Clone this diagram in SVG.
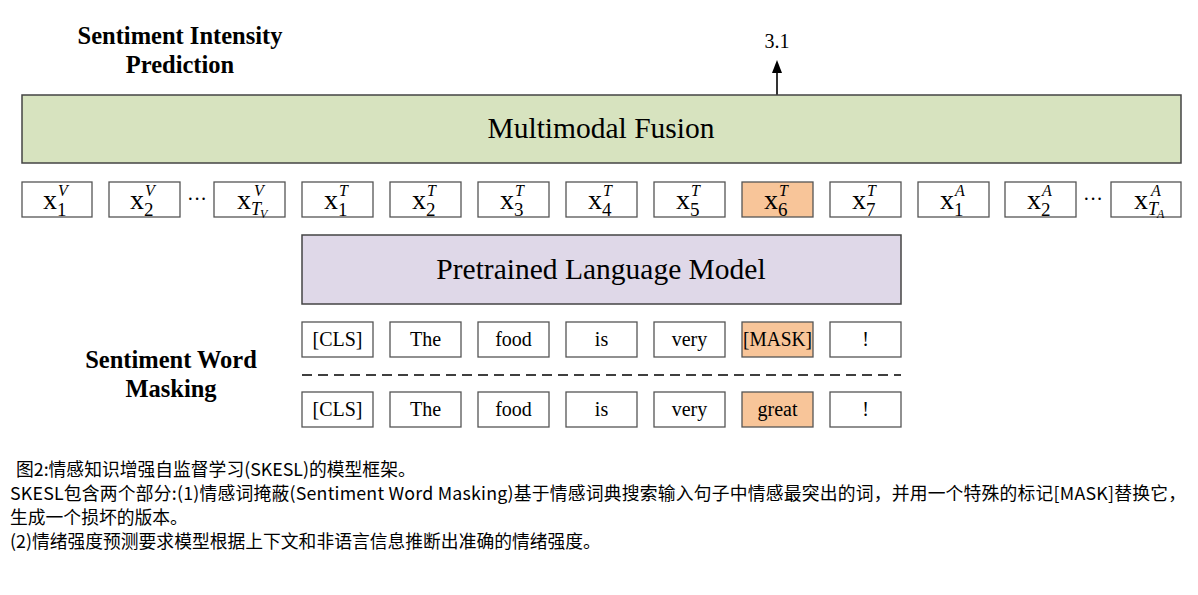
<svg xmlns="http://www.w3.org/2000/svg" width="1198" height="595" viewBox="0 0 1198 595">
<defs>
<style>
.box{fill:#fff;stroke:#555;stroke-width:1.3}
.hl{fill:#f8c599;stroke:#555;stroke-width:1.3}
.tm{font-family:"Liberation Serif","Times New Roman",serif;fill:#000}
.x{font-size:28px}
.sup{font-size:16px;font-style:italic}
.sub{font-size:19px}
.subi{font-size:18px;font-style:italic}
.subsub{font-size:12px;font-style:italic}
.tok{font-size:20px;text-anchor:middle}
.lbl{font-size:24.5px;font-weight:bold;text-anchor:middle}
.big{font-size:29.5px;text-anchor:middle}
.cap{font-family:"Noto Sans CJK SC","Noto Sans",sans-serif;font-size:17.8px;fill:#000}
</style>
</defs>
<rect width="1198" height="595" fill="#fff"/>

<g id="labels">
<text class="tm lbl" x="180" y="44">Sentiment Intensity</text>
<text class="tm lbl" x="180" y="73">Prediction</text>
<text class="tm lbl" x="171" y="368">Sentiment Word</text>
<text class="tm lbl" x="171" y="397">Masking</text>
</g>

<g id="connectors">
<line x1="777" y1="95" x2="777" y2="70" stroke="#000" stroke-width="1.6"/>
<polygon points="777,60 772,73 782,73" fill="#000"/>
<line x1="302" y1="375" x2="901" y2="375" stroke="#000" stroke-width="1.5" stroke-dasharray="10,6"/>
</g>
<text class="tm" x="777" y="48" font-size="20" text-anchor="middle">3.1</text>

<g id="fusion">
<rect x="22" y="95" width="1159" height="68" fill="#d7e3bf" stroke="#444" stroke-width="1.5"/>
<text class="tm big" x="601" y="138">Multimodal Fusion</text>
</g>

<g id="plm">
<rect x="302" y="235" width="599" height="69" fill="#dfd8e8" stroke="#444" stroke-width="1.5"/>
<text class="tm big" x="601" y="279">Pretrained Language Model</text>
</g>

<g id="feat-v1"><rect class="box" x="22" y="182" width="70" height="35"/><text class="tm x" x="43" y="209">x</text><text class="tm sup" x="58" y="196">V</text><text class="tm sub" x="57" y="216">1</text></g>
<g id="feat-v2"><rect class="box" x="109" y="182" width="71" height="35"/><text class="tm x" x="130" y="209">x</text><text class="tm sup" x="145" y="196">V</text><text class="tm sub" x="144" y="216">2</text></g>
<text class="tm" x="197" y="206" font-size="20" text-anchor="middle">···</text>
<g id="feat-vT"><rect class="box" x="214" y="182" width="71" height="35"/><text class="tm x" x="237" y="209">x</text><text class="tm sup" x="254" y="196">V</text><text class="tm subi" x="251" y="215">T</text><text class="tm subsub" x="260" y="218">V</text></g>

<g id="feat-t1"><rect class="box" x="302" y="182" width="71" height="35"/><text class="tm x" x="324" y="209">x</text><text class="tm sup" x="339" y="196">T</text><text class="tm sub" x="338" y="216">1</text></g>
<g id="feat-t2"><rect class="box" x="390" y="182" width="71" height="35"/><text class="tm x" x="412" y="209">x</text><text class="tm sup" x="427" y="196">T</text><text class="tm sub" x="426" y="216">2</text></g>
<g id="feat-t3"><rect class="box" x="478" y="182" width="71" height="35"/><text class="tm x" x="500" y="209">x</text><text class="tm sup" x="515" y="196">T</text><text class="tm sub" x="514" y="216">3</text></g>
<g id="feat-t4"><rect class="box" x="566" y="182" width="71" height="35"/><text class="tm x" x="588" y="209">x</text><text class="tm sup" x="603" y="196">T</text><text class="tm sub" x="602" y="216">4</text></g>
<g id="feat-t5"><rect class="box" x="654" y="182" width="71" height="35"/><text class="tm x" x="676" y="209">x</text><text class="tm sup" x="691" y="196">T</text><text class="tm sub" x="690" y="216">5</text></g>
<g id="feat-t6"><rect class="hl" x="742" y="182" width="71" height="35"/><text class="tm x" x="764" y="209">x</text><text class="tm sup" x="779" y="196">T</text><text class="tm sub" x="778" y="216">6</text></g>
<g id="feat-t7"><rect class="box" x="830" y="182" width="71" height="35"/><text class="tm x" x="852" y="209">x</text><text class="tm sup" x="867" y="196">T</text><text class="tm sub" x="866" y="216">7</text></g>

<g id="feat-a1"><rect class="box" x="918" y="182" width="71" height="35"/><text class="tm x" x="940" y="209">x</text><text class="tm sup" x="955" y="196">A</text><text class="tm sub" x="954" y="216">1</text></g>
<g id="feat-a2"><rect class="box" x="1005" y="182" width="71" height="35"/><text class="tm x" x="1027" y="209">x</text><text class="tm sup" x="1042" y="196">A</text><text class="tm sub" x="1041" y="216">2</text></g>
<text class="tm" x="1093" y="206" font-size="20" text-anchor="middle">···</text>
<g id="feat-aT"><rect class="box" x="1111" y="182" width="70" height="35"/><text class="tm x" x="1134" y="209">x</text><text class="tm sup" x="1151" y="196">A</text><text class="tm subi" x="1148" y="215">T</text><text class="tm subsub" x="1157" y="218">A</text></g>

<g id="masked-row">
<g id="m-cls"><rect class="box" x="302" y="322" width="71" height="35"/><text class="tm tok" x="337.5" y="346">[CLS]</text></g>
<g id="m-the"><rect class="box" x="390" y="322" width="71" height="35"/><text class="tm tok" x="425.5" y="346">The</text></g>
<g id="m-food"><rect class="box" x="478" y="322" width="71" height="35"/><text class="tm tok" x="513.5" y="346">food</text></g>
<g id="m-is"><rect class="box" x="566" y="322" width="71" height="35"/><text class="tm tok" x="601.5" y="346">is</text></g>
<g id="m-very"><rect class="box" x="654" y="322" width="71" height="35"/><text class="tm tok" x="689.5" y="346">very</text></g>
<g id="m-mask"><rect class="hl" x="742" y="322" width="71" height="35"/><text class="tm tok" x="777.5" y="346" textLength="69" lengthAdjust="spacingAndGlyphs">[MASK]</text></g>
<g id="m-excl"><rect class="box" x="830" y="322" width="71" height="35"/><text class="tm tok" x="865.5" y="346">!</text></g>
</g>

<g id="orig-row">
<g id="o-cls"><rect class="box" x="302" y="392" width="71" height="35"/><text class="tm tok" x="337.5" y="416">[CLS]</text></g>
<g id="o-the"><rect class="box" x="390" y="392" width="71" height="35"/><text class="tm tok" x="425.5" y="416">The</text></g>
<g id="o-food"><rect class="box" x="478" y="392" width="71" height="35"/><text class="tm tok" x="513.5" y="416">food</text></g>
<g id="o-is"><rect class="box" x="566" y="392" width="71" height="35"/><text class="tm tok" x="601.5" y="416">is</text></g>
<g id="o-very"><rect class="box" x="654" y="392" width="71" height="35"/><text class="tm tok" x="689.5" y="416">very</text></g>
<g id="o-great"><rect class="hl" x="742" y="392" width="71" height="35"/><text class="tm tok" x="777.5" y="416">great</text></g>
<g id="o-excl"><rect class="box" x="830" y="392" width="71" height="35"/><text class="tm tok" x="865.5" y="416">!</text></g>
</g>

<g id="caption">
<text class="cap" x="16" y="476">图2:情感知识增强自监督学习(SKESL)的模型框架。</text>
<text class="cap" x="10" y="500" textLength="1176" lengthAdjust="spacing">SKESL包含两个部分:(1)情感词掩蔽(Sentiment Word Masking)基于情感词典搜索输入句子中情感最突出的词，并用一个特殊的标记[MASK]替换它，</text>
<text class="cap" x="10" y="524">生成一个损坏的版本。</text>
<text class="cap" x="10" y="548">(2)情绪强度预测要求模型根据上下文和非语言信息推断出准确的情绪强度。</text>
</g>
</svg>
